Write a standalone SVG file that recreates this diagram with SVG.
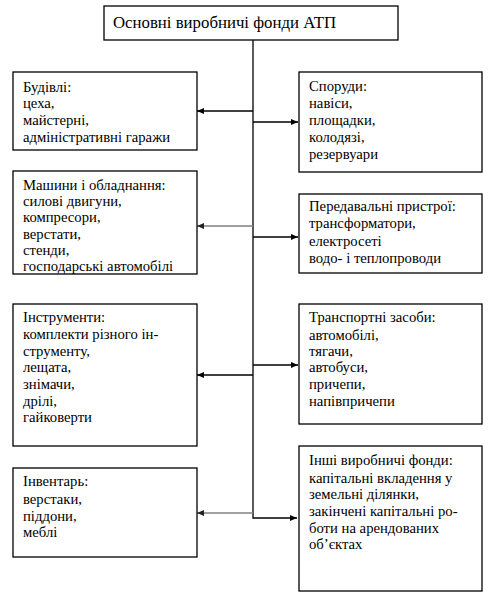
<svg xmlns="http://www.w3.org/2000/svg" width="494" height="598" viewBox="0 0 494 598">
<style>
.box{fill:#fff;stroke:#000;stroke-width:1.3}
text{font-family:"Liberation Serif","Times New Roman",serif;font-size:14.7px;fill:#000}
.t{font-size:16.8px}
.c{stroke:#000;stroke-width:1.3;fill:none}
.g{stroke:#808080;stroke-width:1.3;fill:none}
</style>
<defs>
<marker id="ab" markerWidth="7" markerHeight="6" refX="7" refY="3" orient="auto" markerUnits="userSpaceOnUse"><path d="M0,0 L7,3 L0,6 z" fill="#000"/></marker>
<marker id="ag" markerWidth="7" markerHeight="6" refX="7" refY="3" orient="auto" markerUnits="userSpaceOnUse"><path d="M0,0 L7,3 L0,6 z" fill="#222"/></marker>
</defs>
<rect width="494" height="598" fill="#fff"/>
<g id="connectors">
<path class="c" d="M253,40 V518 H297" marker-end="url(#ab)"/>
<path class="c" d="M253,111 H197" marker-end="url(#ab)"/>
<path class="c" d="M253,122 H298" marker-end="url(#ab)"/>
<path class="g" d="M253,226 H197" marker-end="url(#ag)"/>
<path class="c" d="M253,237 H298" marker-end="url(#ab)"/>
<path class="c" d="M253,375 H197" marker-end="url(#ab)"/>
<path class="c" d="M253,365 H298" marker-end="url(#ab)"/>
<path class="g" d="M253,513 H197" marker-end="url(#ag)"/>
</g>
<g id="root">
<rect class="box" x="104" y="6" width="294" height="34"/>
<text class="t" x="113" y="28">Основні виробничі фонди АТП</text>
</g>
<g id="budivli">
<rect class="box" x="13" y="72" width="184" height="78"/>
<text x="23" y="92">Будівлі:</text>
<text x="23" y="108">цеха,</text>
<text x="23" y="125">майстерні,</text>
<text x="23" y="142">адміністративні гаражи</text>
</g>
<g id="sporudy">
<rect class="box" x="299" y="72" width="183" height="100"/>
<text x="309" y="91">Споруди:</text>
<text x="309" y="108">навіси,</text>
<text x="309" y="125">площадки,</text>
<text x="309" y="142">колодязі,</text>
<text x="309" y="159">резервуари</text>
</g>
<g id="mashyny">
<rect class="box" x="13" y="171" width="184" height="103"/>
<text x="23" y="190">Машини і обладнання:</text>
<text x="23" y="206">силові двигуни,</text>
<text x="23" y="222">компресори,</text>
<text x="23" y="239">верстати,</text>
<text x="23" y="255">стенди,</text>
<text x="23" y="271">господарські автомобілі</text>
</g>
<g id="peredavalni">
<rect class="box" x="299" y="194" width="183" height="79"/>
<text x="309" y="211">Передавальні пристрої:</text>
<text x="309" y="228">трансформатори,</text>
<text x="309" y="246">електросеті</text>
<text x="309" y="263">водо- і теплопроводи</text>
</g>
<g id="instrumenty">
<rect class="box" x="13" y="304" width="184" height="142"/>
<text x="23" y="322">Інструменти:</text>
<text x="23" y="339">комплекти різного ін-</text>
<text x="23" y="356">струменту,</text>
<text x="23" y="372">лещата,</text>
<text x="23" y="389">знімачи,</text>
<text x="23" y="406">дрілі,</text>
<text x="23" y="422">гайковерти</text>
</g>
<g id="transport">
<rect class="box" x="299" y="304" width="183" height="120"/>
<text x="309" y="322">Транспортні засоби:</text>
<text x="309" y="340">автомобілі,</text>
<text x="309" y="356">тягачи,</text>
<text x="309" y="372">автобуси,</text>
<text x="309" y="389">причепи,</text>
<text x="309" y="406">напівпричепи</text>
</g>
<g id="inventar">
<rect class="box" x="13" y="468" width="184" height="89"/>
<text x="23" y="486">Інвентарь:</text>
<text x="23" y="504">верстаки,</text>
<text x="23" y="521">піддони,</text>
<text x="23" y="537">меблі</text>
</g>
<g id="inshi">
<rect class="box" x="299" y="446" width="183" height="145"/>
<text x="309" y="465">Інші виробничі фонди:</text>
<text x="309" y="483">капітальні вкладення у</text>
<text x="309" y="499">земельні ділянки,</text>
<text x="309" y="516">закінчені капітальні ро-</text>
<text x="309" y="533">боти на арендованих</text>
<text x="309" y="549">об’єктах</text>
</g>
</svg>
